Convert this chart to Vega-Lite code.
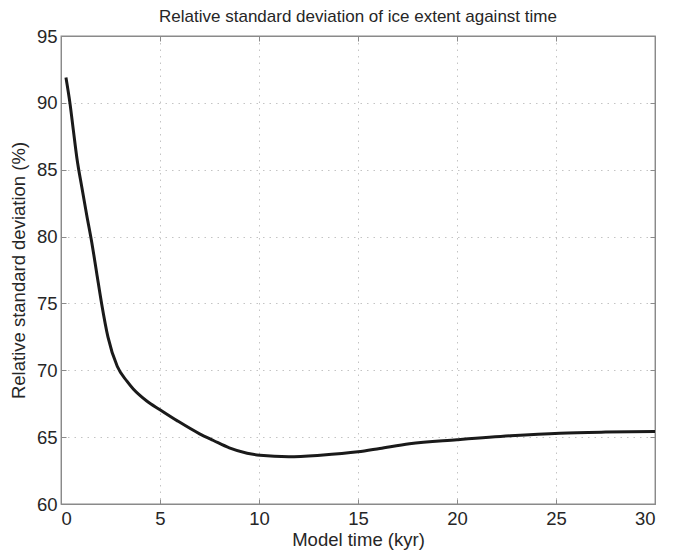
{
  "$schema": "https://vega.github.io/schema/vega-lite/v6.json",
  "width": 594,
  "height": 468,
  "autosize": {"type": "none"},
  "padding": {"left": 61, "top": 36, "right": 22, "bottom": 47},
  "background": "white",
  "title": {
    "text": "Relative standard deviation of ice extent against time",
    "font": "Liberation Sans",
    "fontSize": 17,
    "fontWeight": "normal",
    "color": "#262626",
    "offset": 1,
    "anchor": "middle"
  },
  "config": {
    "view": {"stroke": "#8a8a8a", "strokeWidth": 1.3},
    "axis": {
      "labelFont": "Liberation Sans",
      "titleFont": "Liberation Sans",
      "labelFontSize": 18.5,
      "titleFontSize": 18.5,
      "titleFontWeight": "normal",
      "labelColor": "#262626",
      "titleColor": "#262626",
      "domainColor": "#8a8a8a",
      "tickColor": "#8a8a8a",
      "gridColor": "#c4c4c4",
      "gridDash": [1.5, 5],
      "gridWidth": 1
    }
  },
  "data": {
    "values": [
      {"t": 0.25, "v": 91.9},
      {"t": 0.45, "v": 90.0},
      {"t": 0.62, "v": 88.0},
      {"t": 0.8, "v": 85.9},
      {"t": 1.05, "v": 83.7},
      {"t": 1.3, "v": 81.6},
      {"t": 1.55, "v": 79.6},
      {"t": 1.8, "v": 77.3},
      {"t": 2.05, "v": 75.0},
      {"t": 2.37, "v": 72.5},
      {"t": 2.84, "v": 70.3},
      {"t": 3.32, "v": 69.2},
      {"t": 3.65, "v": 68.6},
      {"t": 4.0, "v": 68.1},
      {"t": 4.33, "v": 67.7},
      {"t": 5.0, "v": 67.05},
      {"t": 5.9, "v": 66.2},
      {"t": 7.0, "v": 65.25},
      {"t": 7.7, "v": 64.75},
      {"t": 8.5, "v": 64.2},
      {"t": 9.4, "v": 63.8},
      {"t": 10.05, "v": 63.65},
      {"t": 11.5, "v": 63.54},
      {"t": 13.1, "v": 63.65},
      {"t": 15.0, "v": 63.9},
      {"t": 16.1, "v": 64.15},
      {"t": 17.6, "v": 64.5},
      {"t": 20.0, "v": 64.8},
      {"t": 22.7, "v": 65.1},
      {"t": 25.2, "v": 65.3},
      {"t": 27.5, "v": 65.38},
      {"t": 30.0, "v": 65.42}
    ]
  },
  "resolve": {"axis": {"x": "independent", "y": "independent"}},
  "layer": [
    {
      "mark": {"type": "line", "color": "#1a1a1a", "strokeWidth": 3, "interpolate": "monotone"},
      "encoding": {
        "x": {
          "field": "t",
          "type": "quantitative",
          "scale": {"domain": [0, 30], "nice": false, "zero": false},
          "axis": {
            "title": "Model time (kyr)",
            "values": [0, 5, 10, 15, 20, 25, 30],
            "tickSize": -5,
            "labelPadding": 10,
            "titlePadding": 3
          }
        },
        "y": {
          "field": "v",
          "type": "quantitative",
          "scale": {"domain": [60, 95], "nice": false, "zero": false},
          "axis": {
            "title": "Relative standard deviation (%)",
            "values": [60, 65, 70, 75, 80, 85, 90, 95],
            "tickSize": -5,
            "labelPadding": 9,
            "titlePadding": 8
          }
        }
      }
    },
    {
      "mark": {"type": "line", "opacity": 0, "interpolate": "monotone"},
      "encoding": {
        "x": {
          "field": "t",
          "type": "quantitative",
          "scale": {"domain": [0, 30], "nice": false, "zero": false},
          "axis": {
            "orient": "top",
            "title": null,
            "labels": false,
            "grid": false,
            "values": [0, 5, 10, 15, 20, 25, 30],
            "tickSize": -5
          }
        },
        "y": {
          "field": "v",
          "type": "quantitative",
          "scale": {"domain": [60, 95], "nice": false, "zero": false},
          "axis": {
            "orient": "right",
            "title": null,
            "labels": false,
            "grid": false,
            "values": [60, 65, 70, 75, 80, 85, 90, 95],
            "tickSize": -5
          }
        }
      }
    }
  ]
}
